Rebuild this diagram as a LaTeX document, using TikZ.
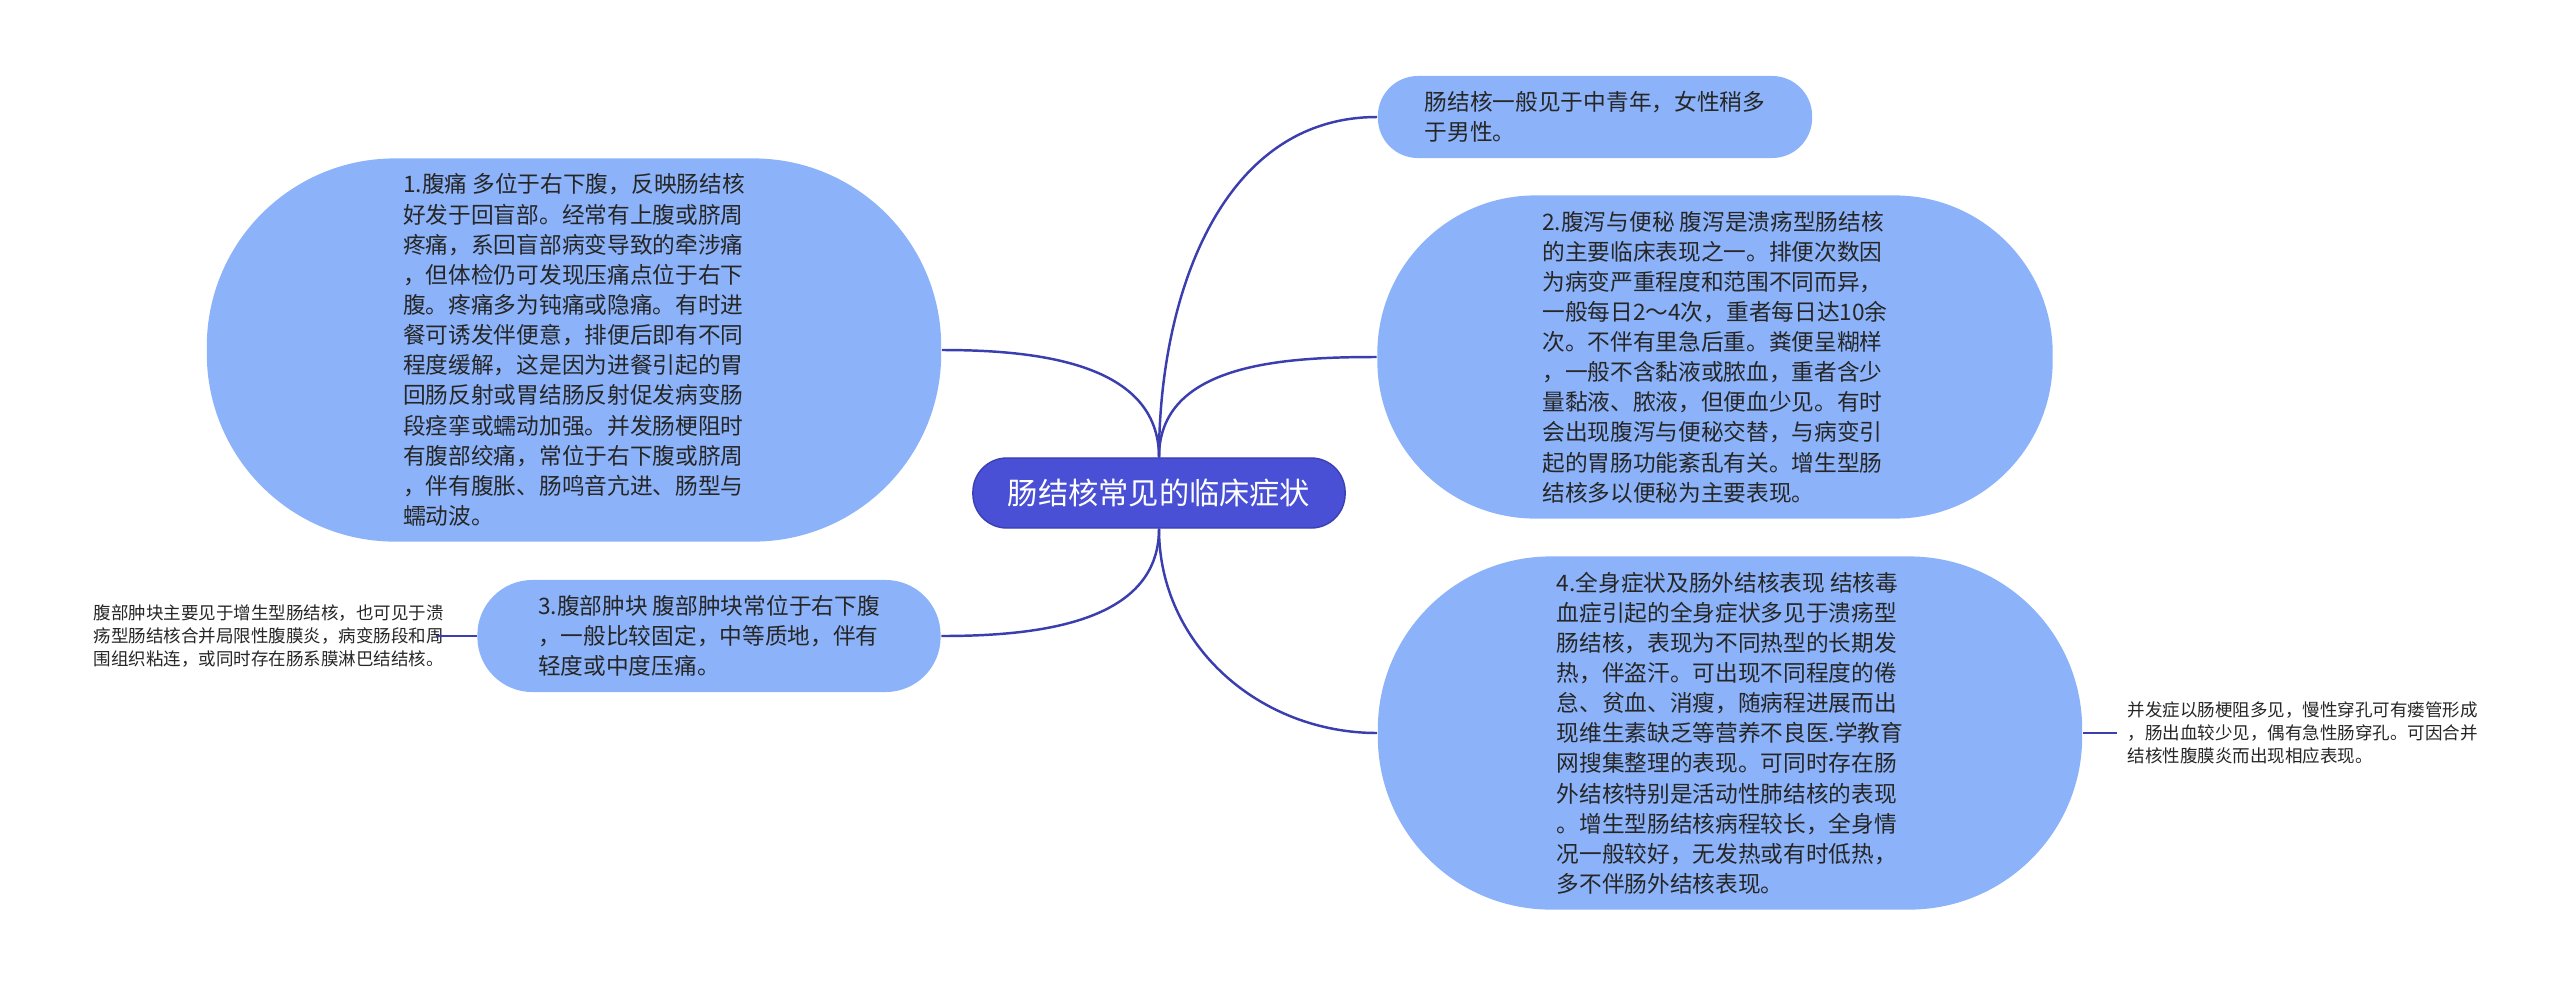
\documentclass[tikz,border=0pt]{standalone}
\usepackage{fontspec}
\setmainfont{Noto Sans CJK SC}
\usetikzlibrary{positioning}
\definecolor{bubblefill}{HTML}{8CB3F9}
\definecolor{rootfill}{HTML}{4A50D5}
\definecolor{rootline}{HTML}{3A3FB2}
\definecolor{branchline}{HTML}{3B3EAF}
\definecolor{bodytext}{HTML}{262626}
\tikzset{
  bubble/.style={fill=bubblefill, text=bodytext, inner sep=0pt, align=left, rounded corners=#1, font=\fontsize{6.45}{8.57}\selectfont},
  leaf/.style={text=bodytext, inner sep=0pt, align=left, font=\fontsize{4.98}{6.52}\selectfont},
  branch/.style={draw=branchline, line width=0.7pt},
}
\begin{document}
\begin{tikzpicture}[x=0.01cm, y=0.01cm]
  \useasboundingbox (0,0) rectangle (2560,-987);
  \node[draw=rootline, fill=rootfill, text=white, rounded corners=0.34cm, minimum width=3.72cm, minimum height=0.7cm, inner sep=0pt, font=\fontsize{8.6}{10}\selectfont] (root) at (1159,-493) {肠结核常见的临床症状};
  \node[bubble=0.4cm, minimum width=4.34cm, minimum height=0.82cm] (age) at (1595,-117)
    {肠结核一般见于中青年，女性稍多\\于男性。};
  \node[bubble=1.88cm, minimum width=7.34cm, minimum height=3.83cm] (sym1) at (574,-350)
    {1.腹痛 多位于右下腹，反映肠结核\\好发于回盲部。经常有上腹或脐周\\疼痛，系回盲部病变导致的牵涉痛\\，但体检仍可发现压痛点位于右下\\腹。疼痛多为钝痛或隐痛。有时进\\餐可诱发伴便意，排便后即有不同\\程度缓解，这是因为进餐引起的胃\\回肠反射或胃结肠反射促发病变肠\\段痉挛或蠕动加强。并发肠梗阻时\\有腹部绞痛，常位于右下腹或脐周\\，伴有腹胀、肠鸣音亢进、肠型与\\蠕动波。};
  \node[bubble=1.58cm, minimum width=6.75cm, minimum height=3.23cm] (sym2) at (1715,-357)
    {2.腹泻与便秘 腹泻是溃疡型肠结核\\的主要临床表现之一。排便次数因\\为病变严重程度和范围不同而异，\\一般每日2～4次，重者每日达10余\\次。不伴有里急后重。粪便呈糊样\\，一般不含黏液或脓血，重者含少\\量黏液、脓液，但便血少见。有时\\会出现腹泻与便秘交替，与病变引\\起的胃肠功能紊乱有关。增生型肠\\结核多以便秘为主要表现。};
  \node[bubble=0.55cm, minimum width=4.63cm, minimum height=1.12cm] (sym3) at (709,-636)
    {3.腹部肿块 腹部肿块常位于右下腹\\，一般比较固定，中等质地，伴有\\轻度或中度压痛。};
  \node[bubble=1.73cm, minimum width=7.04cm, minimum height=3.53cm] (sym4) at (1730,-733)
    {4.全身症状及肠外结核表现 结核毒\\血症引起的全身症状多见于溃疡型\\肠结核，表现为不同热型的长期发\\热，伴盗汗。可出现不同程度的倦\\怠、贫血、消瘦，随病程进展而出\\现维生素缺乏等营养不良医.学教育\\网搜集整理的表现。可同时存在肠\\外结核特别是活动性肺结核的表现\\。增生型肠结核病程较长，全身情\\况一般较好，无发热或有时低热，\\多不伴肠外结核表现。};
  \node[leaf, anchor=east] (note3) at ([xshift=-0.32cm]sym3.west)
    {腹部肿块主要见于增生型肠结核，也可见于溃\\疡型肠结核合并局限性腹膜炎，病变肠段和周\\围组织粘连，或同时存在肠系膜淋巴结结核。};
  \node[leaf, anchor=west] (note4) at ([xshift=0.44cm]sym4.east)
    {并发症以肠梗阻多见，慢性穿孔可有瘘管形成\\，肠出血较少见，偶有急性肠穿孔。可因合并\\结核性腹膜炎而出现相应表现。};
  \draw[branch] (root.north) to[out=90,in=180] (age.west);
  \draw[branch] (root.north) to[out=90,in=180] (sym2.west);
  \draw[branch] (root.south) to[out=-90,in=180] (sym4.west);
  \draw[branch] (root.north) to[out=90,in=0] (sym1.east);
  \draw[branch] (root.south) to[out=-90,in=0] (sym3.east);
  \draw[branch] (sym3.west) -- ([xshift=-0.09cm]note3.east);
  \draw[branch] (sym4.east) -- ([xshift=-0.1cm]note4.west);
\end{tikzpicture}
\end{document}
